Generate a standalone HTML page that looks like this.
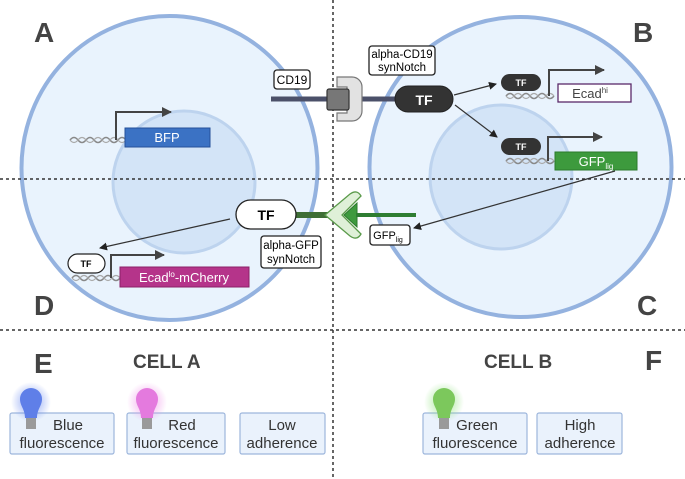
<!DOCTYPE html>
<html><head><meta charset="utf-8"><style>
html,body{margin:0;padding:0;background:#fff}
svg{display:block}
text{font-family:"Liberation Sans",sans-serif}
</style></head><body>
<svg width="685" height="479" viewBox="0 0 685 479" xmlns="http://www.w3.org/2000/svg">
<defs>
<marker id="ah" markerWidth="8" markerHeight="8" refX="7" refY="4" orient="auto" markerUnits="userSpaceOnUse"><path d="M0,0 L8,4 L0,8 z" fill="#222"/></marker>
<marker id="pa" markerWidth="10" markerHeight="10" refX="9" refY="5" orient="auto" markerUnits="userSpaceOnUse"><path d="M0,0 L10,5 L0,10 z" fill="#444"/></marker>
<radialGradient id="gb"><stop offset="0" stop-color="#6d8cf0" stop-opacity=".8"/><stop offset="1" stop-color="#6d8cf0" stop-opacity="0"/></radialGradient>
<radialGradient id="gr"><stop offset="0" stop-color="#ee8ee8" stop-opacity=".8"/><stop offset="1" stop-color="#ee8ee8" stop-opacity="0"/></radialGradient>
<radialGradient id="gg"><stop offset="0" stop-color="#8ce07a" stop-opacity=".8"/><stop offset="1" stop-color="#8ce07a" stop-opacity="0"/></radialGradient>
</defs>
<ellipse cx="169.5" cy="168" rx="148" ry="152" fill="#e9f3fd" stroke="#94b2df" stroke-width="4"/>
<ellipse cx="184" cy="182" rx="71" ry="71" fill="#d3e4f7" stroke="#bdd3ee" stroke-width="3"/>
<ellipse cx="520.5" cy="167" rx="151" ry="150" fill="#e9f3fd" stroke="#94b2df" stroke-width="4"/>
<ellipse cx="501" cy="177" rx="71" ry="72" fill="#d3e4f7" stroke="#bdd3ee" stroke-width="3"/>
<line x1="333" y1="0" x2="333" y2="479" stroke="#333" stroke-width="1.5" stroke-dasharray="3,3"/>
<line x1="0" y1="179" x2="685" y2="179" stroke="#333" stroke-width="1.5" stroke-dasharray="3,3"/>
<line x1="0" y1="330" x2="685" y2="330" stroke="#333" stroke-width="1.5" stroke-dasharray="3,3"/>
<g font-size="28" font-weight="bold" fill="#444">
<text x="34" y="42">A</text><text x="633" y="42">B</text>
<text x="34" y="315">D</text><text x="637" y="315">C</text>
<text x="34" y="373">E</text><text x="645" y="370">F</text>
</g>
<g font-size="19" font-weight="bold" fill="#444">
<text x="133" y="368">CELL A</text><text x="484" y="368">CELL B</text>
</g>
<line x1="271" y1="99" x2="400" y2="99" stroke="#4b5069" stroke-width="5"/>
<path d="M337,77 h15 a10,10 0 0 1 10,10 v24 a10,10 0 0 1 -10,10 h-15 v-8 h10 v-26 h-10 z" fill="#e2e2e2" stroke="#777" stroke-width="1.2"/>
<rect x="327" y="89" width="22" height="21" rx="2" fill="#777" stroke="#333" stroke-width="1.2"/>
<rect x="395" y="86" width="58" height="26" rx="13" fill="#333" stroke="#222"/>
<text x="424" y="105" font-size="14" font-weight="bold" fill="#fff" text-anchor="middle">TF</text>
<rect x="274" y="70" width="36" height="19" rx="3" fill="#fff" stroke="#222" stroke-width="1.3"/>
<text x="292" y="84" font-size="12" text-anchor="middle">CD19</text>
<rect x="369" y="46" width="66" height="29" rx="3" fill="#fff" stroke="#222" stroke-width="1.3"/>
<text x="402" y="58" font-size="11.5" text-anchor="middle">alpha-CD19</text>
<text x="402" y="71" font-size="11.5" text-anchor="middle">synNotch</text>
<line x1="454" y1="95" x2="496" y2="84" stroke="#333" stroke-width="1.2" marker-end="url(#ah)"/>
<line x1="455" y1="105" x2="497" y2="137" stroke="#333" stroke-width="1.2" marker-end="url(#ah)"/>
<path d="M506,96 q4,-5 8,0 t8,0 t8,0 t8,0 t8,0 t8,0" fill="none" stroke="#888" stroke-width="1.5"/>
<path d="M506,96 q4,5 8,0 t8,0 t8,0 t8,0 t8,0 t8,0" fill="none" stroke="#aaa" stroke-width="1.2"/>
<rect x="501" y="74" width="40" height="17" rx="8.5" fill="#333"/>
<text x="521" y="86" font-size="9" font-weight="bold" fill="#fff" text-anchor="middle">TF</text>
<path d="M549,96 V70 H604" fill="none" stroke="#444" stroke-width="2" marker-end="url(#pa)"/>
<rect x="558" y="84" width="73" height="18" fill="#fff" stroke="#5a2a6a" stroke-width="1.3"/>
<text x="590" y="98" font-size="13" fill="#444" text-anchor="middle">Ecad<tspan font-size="8" dy="-5">hi</tspan></text>
<path d="M506,161 q4,-5 8,0 t8,0 t8,0 t8,0 t8,0 t8,0" fill="none" stroke="#888" stroke-width="1.5"/>
<path d="M506,161 q4,5 8,0 t8,0 t8,0 t8,0 t8,0 t8,0" fill="none" stroke="#aaa" stroke-width="1.2"/>
<rect x="501" y="138" width="40" height="17" rx="8.5" fill="#333"/>
<text x="521" y="150" font-size="9" font-weight="bold" fill="#fff" text-anchor="middle">TF</text>
<path d="M548,161 V137 H602" fill="none" stroke="#444" stroke-width="2" marker-end="url(#pa)"/>
<rect x="555" y="152" width="82" height="18" fill="#3d9a3d" stroke="#2a7a2a"/>
<text x="596" y="166" font-size="13" fill="#fff" text-anchor="middle">GFP<tspan font-size="8" dy="3">lig</tspan></text>
<path d="M70,140 q4,-5 8,0 t8,0 t8,0 t8,0 t8,0 t8,0 t8,0" fill="none" stroke="#888" stroke-width="1.5"/>
<path d="M70,140 q4,5 8,0 t8,0 t8,0 t8,0 t8,0 t8,0 t8,0" fill="none" stroke="#aaa" stroke-width="1.2"/>
<path d="M116,140 V112 H171" fill="none" stroke="#444" stroke-width="2" marker-end="url(#pa)"/>
<rect x="125" y="128" width="85" height="19" fill="#3b72c4" stroke="#24509a"/>
<text x="167" y="142" font-size="13" fill="#fff" text-anchor="middle">BFP</text>
<line x1="292" y1="215" x2="335" y2="215" stroke="#3e6e35" stroke-width="6"/>
<path d="M325,215 L350,194 Q357,189 361,196 L342,215 L361,234 Q357,241 350,236 Z" fill="#dff0d8" stroke="#5a9a4a" stroke-width="1.3"/>
<path d="M344,215 L357,203 V227 z" fill="#3e9a3e" stroke="#2a7a2a"/>
<line x1="356" y1="215" x2="416" y2="215" stroke="#2e7d32" stroke-width="4"/>
<rect x="236" y="200" width="60" height="29" rx="14.5" fill="#fff" stroke="#222" stroke-width="1.3"/>
<text x="266" y="220" font-size="14" font-weight="bold" text-anchor="middle">TF</text>
<rect x="261" y="236" width="60" height="32" rx="3" fill="#fff" stroke="#222" stroke-width="1.3"/>
<text x="291" y="249" font-size="11.5" text-anchor="middle">alpha-GFP</text>
<text x="291" y="263" font-size="11.5" text-anchor="middle">synNotch</text>
<rect x="370" y="225" width="40" height="20" rx="3" fill="#fff" stroke="#222" stroke-width="1.3"/>
<text x="388" y="239" font-size="11" text-anchor="middle">GFP<tspan font-size="7" dy="3">lig</tspan></text>
<line x1="615" y1="171" x2="414" y2="228" stroke="#333" stroke-width="1.2" marker-end="url(#ah)"/>
<line x1="230" y1="219" x2="100" y2="248" stroke="#333" stroke-width="1.2" marker-end="url(#ah)"/>
<path d="M72,278 q4,-5 8,0 t8,0 t8,0 t8,0 t8,0 t8,0" fill="none" stroke="#888" stroke-width="1.5"/>
<path d="M72,278 q4,5 8,0 t8,0 t8,0 t8,0 t8,0 t8,0" fill="none" stroke="#aaa" stroke-width="1.2"/>
<rect x="68" y="254" width="37" height="19" rx="9.5" fill="#fff" stroke="#222" stroke-width="1.2"/>
<text x="86" y="267" font-size="9" font-weight="bold" text-anchor="middle">TF</text>
<path d="M111,278 V255 H164" fill="none" stroke="#444" stroke-width="2" marker-end="url(#pa)"/>
<rect x="120" y="267" width="129" height="20" fill="#b5348a" stroke="#8a2068"/>
<text x="184" y="282" font-size="13" fill="#fff" text-anchor="middle">Ecad<tspan font-size="8" dy="-5">lo</tspan><tspan dy="5">-mCherry</tspan></text>
<g fill="#eaf2fc" stroke="#9db6dc" stroke-width="1.2">
<rect x="10" y="413" width="104" height="41" rx="2"/>
<rect x="127" y="413" width="98" height="41" rx="2"/>
<rect x="240" y="413" width="85" height="41" rx="2"/>
<rect x="423" y="413" width="104" height="41" rx="2"/>
<rect x="537" y="413" width="85" height="41" rx="2"/>
</g>
<g font-size="15" fill="#333" text-anchor="middle">
<text x="68" y="430">Blue</text><text x="62" y="448">fluorescence</text>
<text x="182" y="430">Red</text><text x="176" y="448">fluorescence</text>
<text x="282" y="430">Low</text><text x="282" y="448">adherence</text>
<text x="477" y="430">Green</text><text x="475" y="448">fluorescence</text>
<text x="580" y="430">High</text><text x="580" y="448">adherence</text>
</g>
<g>
<circle cx="31" cy="402" r="20" fill="url(#gb)"/>
<path d="M31,388 a11,11 0 0 1 11,11 c0,7 -5,10 -5,19 h-12 c0,-9 -5,-12 -5,-19 a11,11 0 0 1 11,-11z" fill="#5f7fe8"/>
<rect x="26" y="418" width="10" height="11" fill="#9a9a9a"/>
<circle cx="147" cy="402" r="20" fill="url(#gr)"/>
<path d="M147,388 a11,11 0 0 1 11,11 c0,7 -5,10 -5,19 h-12 c0,-9 -5,-12 -5,-19 a11,11 0 0 1 11,-11z" fill="#e47ade"/>
<rect x="142" y="418" width="10" height="11" fill="#9a9a9a"/>
<circle cx="444" cy="402" r="20" fill="url(#gg)"/>
<path d="M444,388 a11,11 0 0 1 11,11 c0,7 -5,10 -5,19 h-12 c0,-9 -5,-12 -5,-19 a11,11 0 0 1 11,-11z" fill="#7cc85c"/>
<rect x="439" y="418" width="10" height="11" fill="#9a9a9a"/>
</g>
</svg>
</body></html>
